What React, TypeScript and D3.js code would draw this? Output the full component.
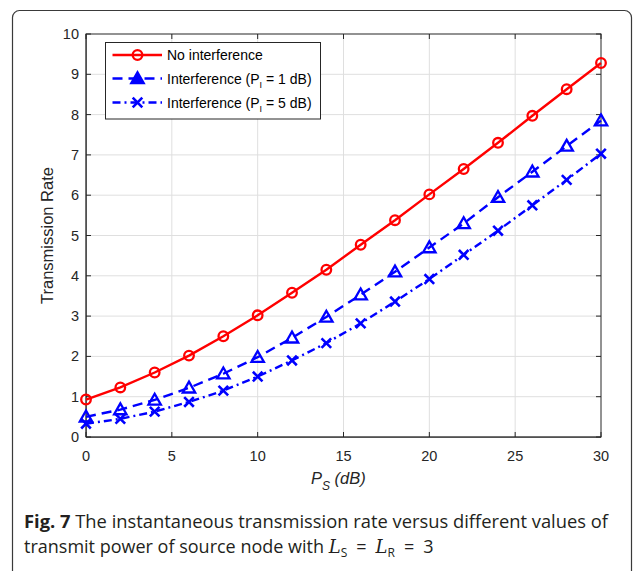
import React from 'react';
import * as d3 from 'd3';

// transmit power of source node (dB)
const psValues = [0, 2, 4, 6, 8, 10, 12, 14, 16, 18, 20, 22, 24, 26, 28, 30];
const noInterference = [0.93, 1.23, 1.6, 2.02, 2.5, 3.02, 3.58, 4.15, 4.77, 5.38, 6.02, 6.65, 7.3, 7.97, 8.63, 9.28];
const interference1dB = [0.5, 0.68, 0.92, 1.22, 1.57, 1.98, 2.46, 2.98, 3.53, 4.1, 4.7, 5.3, 5.95, 6.58, 7.22, 7.85];
const interference5dB = [0.33, 0.45, 0.63, 0.87, 1.15, 1.5, 1.9, 2.33, 2.82, 3.36, 3.92, 4.52, 5.12, 5.75, 6.38, 7.03];
const xTicks = [0, 5, 10, 15, 20, 25, 30];
const yTicks = [0, 1, 2, 3, 4, 5, 6, 7, 8, 9, 10];

const W = 636;
const H = 571;
const plot = { left: 86, right: 601, top: 34, bottom: 437 };
const axisColor = '#262626';
const gridColor = '#dfdfdf';
const chartFont = '"Liberation Sans", Arial, sans-serif';
const captionFont = '"Open Sans", "Noto Sans", sans-serif';

type Marker = 'circle' | 'triangle' | 'x';

const series: { label: string; sub?: string; tail?: string; values: number[]; color: string; dash: string; marker: Marker }[] = [
  { label: 'No interference', values: noInterference, color: '#ff0000', dash: '', marker: 'circle' },
  { label: 'Interference (P', sub: 'I', tail: ' = 1 dB)', values: interference1dB, color: '#0000ff', dash: '10,6', marker: 'triangle' },
  { label: 'Interference (P', sub: 'I', tail: ' = 5 dB)', values: interference5dB, color: '#0000ff', dash: '8,4,2,4', marker: 'x' },
];

const MarkerShape = ({ type, x, y, color, filled }: { type: Marker; x: number; y: number; color: string; filled?: boolean }) => {
  if (type === 'circle') {
    return <circle cx={x} cy={y} r={4.8} fill="none" stroke={color} strokeWidth={2.3} />;
  }
  if (type === 'triangle') {
    const s = 6.2;
    const pts = `${x},${y - s} ${x + s},${y + s * 0.75} ${x - s},${y + s * 0.75}`;
    return <polygon points={pts} fill={filled ? color : 'none'} stroke={color} strokeWidth={2.3} strokeLinejoin="miter" />;
  }
  const s = 4.8;
  return (
    <path d={`M${x - s},${y - s}L${x + s},${y + s}M${x - s},${y + s}L${x + s},${y - s}`} stroke={color} strokeWidth={2.6} />
  );
};

export default function App() {
  const x = d3.scaleLinear().domain([0, 30]).range([plot.left, plot.right]);
  const y = d3.scaleLinear().domain([0, 10]).range([plot.bottom, plot.top]);
  const tickLen = 5;

  const line = (vals: number[]) =>
    d3
      .line<number>()
      .x((_, i) => x(psValues[i]))
      .y((d) => y(d))(vals) || '';

  const legend = { x: 105.5, y: 42.5, w: 215, h: 76.5 };
  const legendRows = [55, 78.5, 102.5];

  return (
    <svg
      width={W}
      height={H}
      viewBox={`0 0 ${W} ${H}`}
      style={{ position: 'absolute', left: 0, top: 0, background: '#fff' }}
    >
      {/* outer figure frame */}
      <rect x={12.5} y={10.5} width={619} height={620} rx={7} fill="none" stroke="#3a3a3a" strokeWidth={1.2} />

      {/* grid */}
      <g>
        {xTicks.slice(1, -1).map((t) => (
          <line key={`gx${t}`} x1={x(t)} x2={x(t)} y1={plot.top} y2={plot.bottom} stroke={gridColor} strokeWidth={1} />
        ))}
        {yTicks.slice(1, -1).map((t) => (
          <line key={`gy${t}`} x1={plot.left} x2={plot.right} y1={y(t)} y2={y(t)} stroke={gridColor} strokeWidth={1} />
        ))}
      </g>

      {/* axes box with inward ticks */}
      <rect
        x={plot.left}
        y={plot.top}
        width={plot.right - plot.left}
        height={plot.bottom - plot.top}
        fill="none"
        stroke={axisColor}
        strokeWidth={1}
      />
      <rect x={plot.left - 0.5} y={plot.top} width={1.5} height={plot.bottom - plot.top} fill={axisColor} opacity={0.6} />
      <rect x={plot.left} y={plot.bottom - 0.5} width={plot.right - plot.left} height={1.5} fill={axisColor} opacity={0.6} />
      {xTicks.map((t) => (
        <g key={`tx${t}`}>
          <line x1={x(t)} x2={x(t)} y1={plot.bottom} y2={plot.bottom - tickLen} stroke={axisColor} />
          <line x1={x(t)} x2={x(t)} y1={plot.top} y2={plot.top + tickLen} stroke={axisColor} />
          <text
            x={x(t)}
            y={plot.bottom + 24}
            textAnchor="middle"
            fontFamily={chartFont}
            fontSize={14.5}
            fill={axisColor}
          >
            {t}
          </text>
        </g>
      ))}
      {yTicks.map((t) => (
        <g key={`ty${t}`}>
          <line x1={plot.left} x2={plot.left + tickLen} y1={y(t)} y2={y(t)} stroke={axisColor} />
          <line x1={plot.right} x2={plot.right - tickLen} y1={y(t)} y2={y(t)} stroke={axisColor} />
          <text
            x={plot.left - 7}
            y={y(t) + 5}
            textAnchor="end"
            fontFamily={chartFont}
            fontSize={14.5}
            fill={axisColor}
          >
            {t}
          </text>
        </g>
      ))}

      {/* axis labels */}
      <text
        transform={`translate(53,${(plot.top + plot.bottom) / 2}) rotate(-90)`}
        textAnchor="middle"
        fontFamily={chartFont}
        fontSize={16.5}
        fill={axisColor}
      >
        Transmission Rate
      </text>
      <text x={311} y={484} fontFamily={chartFont} fontSize={16.5} fontStyle="italic" fill={axisColor}>
        P
        <tspan fontSize={12} dy={6}>S</tspan>
        <tspan dy={-6}> (dB)</tspan>
      </text>

      {/* series */}
      {series.map((s) => (
        <g key={s.label + (s.tail || '')}>
          <path d={line(s.values)} fill="none" stroke={s.color} strokeWidth={2.4} strokeDasharray={s.dash || undefined} />
          {s.values.map((v, i) => (
            <MarkerShape key={i} type={s.marker} x={x(psValues[i])} y={y(v)} color={s.color} />
          ))}
        </g>
      ))}

      {/* legend */}
      <rect x={legend.x} y={legend.y} width={legend.w} height={legend.h} fill="#fff" stroke={axisColor} strokeWidth={1} />
      {series.map((s, i) => (
        <g key={`lg${i}`}>
          <line
            x1={112.5}
            x2={162}
            y1={legendRows[i]}
            y2={legendRows[i]}
            stroke={s.color}
            strokeWidth={2.4}
            strokeDasharray={s.dash || undefined}
          />
          <MarkerShape type={s.marker} x={137.5} y={legendRows[i]} color={s.color} filled />
          <text x={167} y={legendRows[i] + 5} fontFamily={chartFont} fontSize={14} fill="#000">
            {s.label}
            {s.sub && (
              <>
                <tspan fontSize={9} dy={4}>{s.sub}</tspan>
                <tspan dy={-4}>{s.tail}</tspan>
              </>
            )}
          </text>
        </g>
      ))}

      {/* caption */}
      <text x={24} y={528} fontFamily={captionFont} fontSize={18} fill="#231f20" textLength={584} lengthAdjust="spacingAndGlyphs">
        <tspan fontWeight="bold">Fig. 7</tspan> The instantaneous transmission rate versus different values of
      </text>
      <text x={24} y={553} fontFamily={captionFont} fontSize={18} fill="#231f20">
        transmit power of source node with{' '}
        <tspan fontStyle="italic" fontFamily='"DejaVu Serif", serif'>L</tspan>
        <tspan fontSize={12} dy={4}>S</tspan>
        <tspan dy={-4}>{'\u2002=\u2002'}</tspan>
        <tspan fontStyle="italic" fontFamily='"DejaVu Serif", serif'>L</tspan>
        <tspan fontSize={12} dy={4}>R</tspan>
        <tspan dy={-4}>{'\u2002=\u20023'}</tspan>
      </text>
    </svg>
  );
}
